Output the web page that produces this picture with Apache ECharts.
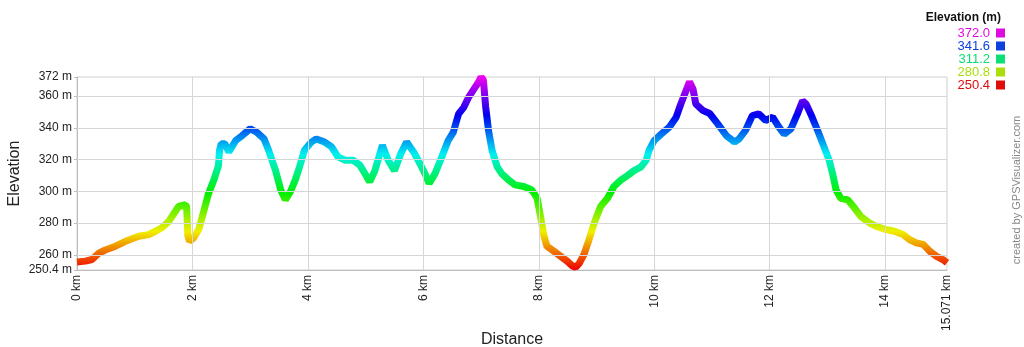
<!DOCTYPE html>
<html>
<head>
<meta charset="utf-8">
<script src="https://cdn.jsdelivr.net/npm/echarts@6/dist/echarts.min.js"></script>
<style>
html,body{margin:0;padding:0;background:#fff;}
#chart{width:1024px;height:347px;}
</style>
</head>
<body>
<div id="chart"></div>
<script>
// ---- data ----
var distanceKm = [0,0.145,0.26,0.376,0.49,0.665,0.84,1.07,1.24,1.36,1.47,1.59,1.68,1.76,1.88,1.9,1.92,1.95,2.02,2.11,2.2,2.28,2.37,2.45,2.47,2.5,2.56,2.63,2.75,2.86,3.0,3.12,3.24,3.32,3.44,3.53,3.61,3.7,3.78,3.855,3.94,4.06,4.145,4.29,4.41,4.52,4.64,4.78,4.9,4.99,5.07,5.16,5.29,5.39,5.5,5.61,5.71,5.83,5.94,6.03,6.1,6.2,6.32,6.43,6.52,6.61,6.7,6.78,6.87,6.96,7.0,7.04,7.08,7.13,7.19,7.28,7.36,7.48,7.59,7.74,7.88,7.97,8.03,8.09,8.14,8.26,8.38,8.49,8.58,8.64,8.7,8.78,8.87,8.96,9.07,9.19,9.3,9.42,9.54,9.65,9.77,9.86,9.91,10.0,10.12,10.26,10.38,10.46,10.55,10.61,10.67,10.72,10.84,10.96,11.1,11.25,11.39,11.47,11.58,11.7,11.81,11.93,12.05,12.16,12.25,12.37,12.48,12.57,12.63,12.71,12.83,12.94,13.03,13.09,13.15,13.23,13.35,13.47,13.58,13.73,13.84,14.0,14.16,14.31,14.42,14.54,14.66,14.77,14.89,15.0,15.071];
var elevationM = [255.5,256,257,261,263,265.4,268.5,271.7,272.7,274.8,277,281,286,290.4,291.5,290,272,268.5,270.6,276,288,298.8,307,316,326,330,330,324.8,332,335,339.4,337,333,325.8,313,300.8,294.6,300,307,315.4,325.8,331,333,331,328,321.7,319.6,319.6,316.5,311,306,313,329,319.6,313,323.8,331,324.8,317.5,311,305,311,321.7,332,337.3,348.75,352.9,359,364,369,372,370,353,338,325.8,315.4,311,307,304,303,300.8,295.6,284,271.7,265.4,262.3,259,256,253,252.2,254.6,260,269.6,280,290.4,295.6,303,307,310,313,315.4,319.6,325.8,332,336,340.4,346.7,355,363.4,369,364.6,355,351,349,342.5,335,331,333,338.3,347.7,348.75,344.6,346.7,340.4,336,339.4,348.75,357,355,348.75,338.3,328,319.6,311,300.8,295.6,294.6,289.4,284,280,278,276,274.8,272.7,269.6,267.5,266.5,262.3,259,257,255];
var xTicks = [0,2,4,6,8,10,12,14,15.071];
var yTicks = [250.4,260,280,300,320,340,360,372];
var yGrid = [260,280,300,320,340,360];
var xGrid = [2,4,6,8,10,12,14];
var legendValues = [372.0,341.6,311.2,280.8,250.4];
var yMin = 250.4, yMax = 372, xMax = 15.071;

// ---- styling helpers ----
function hueColor(v){
  var f = (v - yMin) / (yMax - yMin);
  return 'hsl(' + Math.round(300 * f) + ',90%,46%)';
}
var rampColors = [];
for (var i = 0; i <= 10; i++) rampColors.push('hsl(' + (i * 30) + ',100%,47%)');

var points = distanceKm.map(function(d, i){ return [d, elevationM[i]]; });

var gridMarks = [];
yGrid.forEach(function(v){ gridMarks.push({ yAxis: v }); });
xGrid.forEach(function(v){ gridMarks.push({ xAxis: v }); });

var FONT = '"Liberation Sans", Arial, sans-serif';

var legendGraphics = [{
  type: 'text', right: 23, top: 12,
  style: { text: 'Elevation (m)', font: 'bold 12px ' + FONT, fill: '#111' }
}];
legendValues.forEach(function(v, i){
  var yc = 33 + i * 13;
  legendGraphics.push({
    type: 'text', x: 990, y: yc,
    style: { text: v.toFixed(1), font: '13px ' + FONT, fill: hueColor(v), align: 'right', verticalAlign: 'middle' }
  });
  legendGraphics.push({
    type: 'rect', shape: { x: 996, y: yc - 4.5, width: 9, height: 9 },
    style: { fill: hueColor(v) }
  });
});
legendGraphics.push({
  type: 'text', x: 1017, y: 190, rotation: Math.PI / 2,
  style: { text: 'created by GPSVisualizer.com', font: '11px ' + FONT, fill: '#888', align: 'center', verticalAlign: 'middle' }
});

var chart = echarts.init(document.getElementById('chart'), null, { renderer: 'canvas' });
chart.setOption({
  animation: false,
  backgroundColor: '#fff',
  grid: { left: 77, right: 77, top: 77, bottom: 77, show: true, borderColor: '#cfcfcf', borderWidth: 1, containLabel: false, outerBoundsMode: 'none' },
  xAxis: {
    type: 'value', min: 0, max: xMax,
    name: 'Distance', nameLocation: 'middle', nameGap: 62, nameMoveOverlap: false,
    nameTextStyle: { fontFamily: FONT, fontSize: 16, color: '#222' },
    axisLine: { show: true, lineStyle: { color: '#bdbdbd' } },
    axisTick: { show: false },
    splitLine: { show: false },
    axisLabel: {
      customValues: xTicks, rotate: 90, margin: 5,
      fontFamily: FONT, fontSize: 12, color: '#222',
      formatter: function(v){ return v + ' km'; }
    }
  },
  yAxis: {
    type: 'value', min: yMin, max: yMax,
    name: 'Elevation', nameLocation: 'middle', nameGap: 54, nameRotate: 90, nameMoveOverlap: false,
    nameTextStyle: { fontFamily: FONT, fontSize: 16, color: '#222' },
    axisLine: { show: true, lineStyle: { color: '#bdbdbd' } },
    axisTick: { show: true, customValues: yTicks, length: 3, inside: false, lineStyle: { color: '#bdbdbd' } },
    splitLine: { show: false },
    axisLabel: {
      customValues: yTicks, margin: 5,
      fontFamily: FONT, fontSize: 12, color: '#222',
      formatter: function(v){ return v + ' m'; }
    }
  },
  visualMap: {
    type: 'continuous', show: false, seriesIndex: 1, dimension: 1,
    min: yMin, max: yMax, inRange: { color: rampColors }
  },
  series: [
    {
      type: 'line', data: [], z: 1, silent: true,
      markLine: {
        silent: true, symbol: 'none', label: { show: false },
        lineStyle: { color: '#d6d6d6', width: 1, type: 'solid' },
        data: gridMarks
      }
    },
    {
      type: 'line', data: points, z: 3, showSymbol: false, smooth: false,
      lineStyle: { width: 7 }
    }
  ],
  graphic: legendGraphics
});
</script>
</body>
</html>
